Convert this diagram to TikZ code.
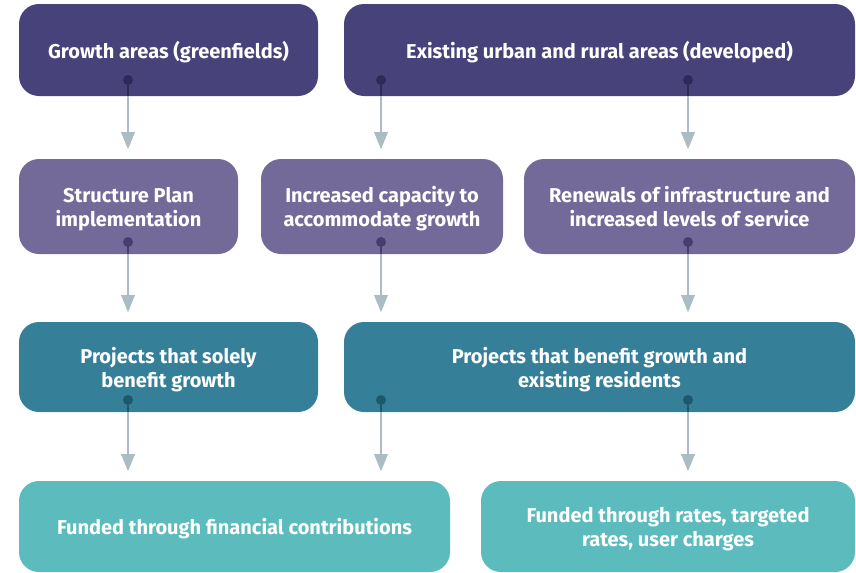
\documentclass[tikz,border=0pt]{standalone}
\usepackage{fontspec}
\setmainfont{Fira Sans}
\usetikzlibrary{arrows.meta}

\definecolor{sourcecol}{HTML}{48427A}
\definecolor{sourcedot}{HTML}{2E2A58}
\definecolor{drivercol}{HTML}{746A9A}
\definecolor{driverdot}{HTML}{443D6E}
\definecolor{projectcol}{HTML}{357F98}
\definecolor{projectdot}{HTML}{1D586D}
\definecolor{fundcol}{HTML}{5BBBBD}
\definecolor{flowgrey}{HTML}{A9BDC3}

\tikzset{
  box/.style={rounded corners=15pt, text=white, align=center, inner sep=0pt,
    text depth=-2.5pt, font=\bfseries\fontsize{15}{18}\selectfont},
  knob/.style={circle, inner sep=0pt, minimum size=7.5pt},
  stem/.style={line width=2pt},
  flow/.style={draw=flowgrey, line width=2pt, shorten >=7pt,
    -{Triangle[width=10pt,length=13pt]}},
}

\begin{document}
\begin{tikzpicture}[x=0.75pt,y=-0.75pt]
  \useasboundingbox (0,0) rectangle (856,572);

  \node[box, fill=sourcecol, minimum width=224.25pt, minimum height=69pt] (growth) at (168.5,50) {Growth areas (greenfields)};
  \node[box, fill=sourcecol, minimum width=383.25pt, minimum height=69pt] (existing) at (599.5,50) {Existing urban and rural areas (developed)};

  \node[box, fill=drivercol, minimum width=164.25pt, minimum height=71.25pt] (structure) at (128.5,206.5) {Structure Plan\\implementation};
  \node[box, fill=drivercol, minimum width=181.5pt, minimum height=71.25pt] (capacity) at (382,206.5) {Increased capacity to\\accommodate growth};
  \node[box, fill=drivercol, minimum width=248.25pt, minimum height=71.25pt] (renewals) at (689.5,206.5) {Renewals of infrastructure and\\increased levels of service};

  \node[box, fill=projectcol, minimum width=224.25pt, minimum height=67.5pt] (solely) at (168.5,367) {Projects that solely\\benefit growth};
  \node[box, fill=projectcol, minimum width=383.25pt, minimum height=67.5pt] (shared) at (599.5,367) {Projects that benefit growth and\\existing residents};

  \node[box, fill=fundcol, minimum width=323.25pt, minimum height=68.25pt] (contrib) at (234.5,526.5) {Funded through financial contributions};
  \node[box, fill=fundcol, minimum width=280.5pt, minimum height=68.25pt] (rates) at (668,526.5) {Funded through rates, targeted\\rates, user charges};

  \node[knob, fill=sourcedot] (g1) at (128,80) {};
  \node[knob, fill=sourcedot] (e1) at (381,80) {};
  \node[knob, fill=sourcedot] (e2) at (688,80) {};
  \node[knob, fill=driverdot] (s1) at (128,242) {};
  \node[knob, fill=driverdot] (c1) at (381,242) {};
  \node[knob, fill=driverdot] (r1) at (688,242) {};
  \node[knob, fill=projectdot] (p1) at (128,400) {};
  \node[knob, fill=projectdot] (p2) at (381,400) {};
  \node[knob, fill=projectdot] (p3) at (688,400) {};

  \draw[stem, draw=sourcedot] (g1) -- (g1 |- growth.south);
  \draw[stem, draw=sourcedot] (e1) -- (e1 |- existing.south);
  \draw[stem, draw=sourcedot] (e2) -- (e2 |- existing.south);
  \draw[stem, draw=driverdot] (s1) -- (s1 |- structure.south);
  \draw[stem, draw=driverdot] (c1) -- (c1 |- capacity.south);
  \draw[stem, draw=driverdot] (r1) -- (r1 |- renewals.south);
  \draw[stem, draw=projectdot] (p1) -- (p1 |- solely.south);
  \draw[stem, draw=projectdot] (p2) -- (p2 |- shared.south);
  \draw[stem, draw=projectdot] (p3) -- (p3 |- shared.south);

  \draw[flow] (g1 |- growth.south) -- (g1 |- structure.north);
  \draw[flow] (e1 |- existing.south) -- (e1 |- capacity.north);
  \draw[flow] (e2 |- existing.south) -- (e2 |- renewals.north);
  \draw[flow] (s1 |- structure.south) -- (s1 |- solely.north);
  \draw[flow] (c1 |- capacity.south) -- (c1 |- shared.north);
  \draw[flow] (r1 |- renewals.south) -- (r1 |- shared.north);
  \draw[flow] (p1 |- solely.south) -- (p1 |- contrib.north);
  \draw[flow] (p2 |- shared.south) -- (p2 |- contrib.north);
  \draw[flow] (p3 |- shared.south) -- (p3 |- rates.north);
\end{tikzpicture}
\end{document}
